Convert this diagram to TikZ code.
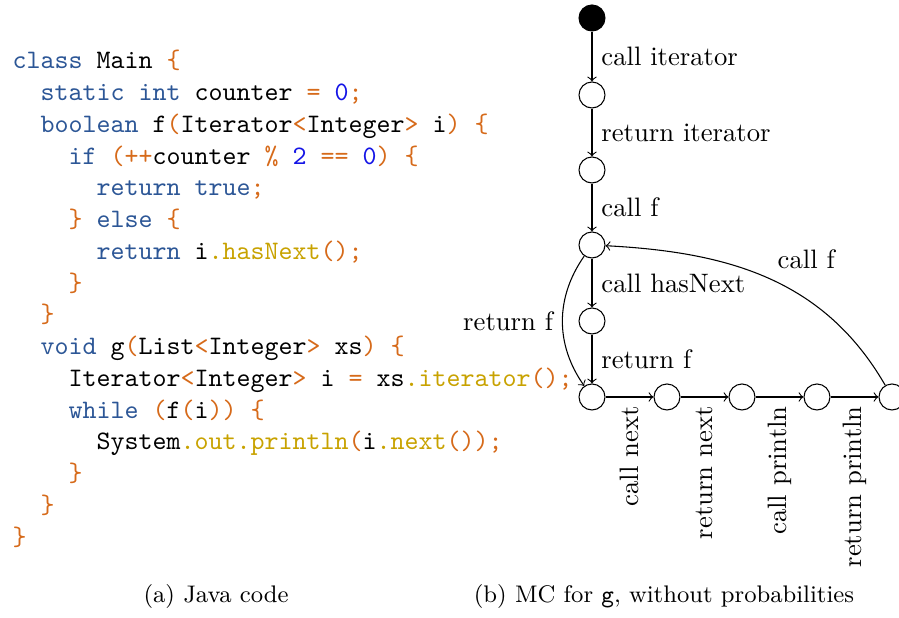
\documentclass[tikz,border=0pt]{standalone}
\usetikzlibrary{arrows}
\definecolor{kwblue}{RGB}{44,86,150}
\definecolor{oporange}{RGB}{214,106,26}
\definecolor{mtgold}{RGB}{200,162,0}
\definecolor{numblue}{RGB}{20,20,230}
\newcommand\jkw[1]{\textcolor{kwblue}{#1}}
\newcommand\jop[1]{\textcolor{oporange}{#1}}
\newcommand\jmt[1]{\textcolor{mtgold}{#1}}
\newcommand\jnum[1]{\textcolor{numblue}{#1}}
\begin{document}
\begin{tikzpicture}[x=0.375pt,y=-0.375pt,
  codeline/.style={anchor=base west,inner sep=0pt,font=\ttfamily\fontsize{10}{12}\selectfont},
  state/.style={circle,draw,minimum size=9.75pt,inner sep=0pt},
  startstate/.style={state,fill=black},
  trans/.style={->},
  lbl/.style={font=\fontsize{10}{12}\selectfont},
  captext/.style={anchor=base,font=\fontsize{9}{11}\selectfont}]
\useasboundingbox (0,0) rectangle (899,618);
% code
\node[codeline] (c1) at (12,69) {\jkw{class} Main \jop{\{}};
\node[codeline] (c2) at (40,100.75) {\jkw{static int} counter \jop{=} \jnum{0}\jop{;}};
\node[codeline] (c3) at (40,132.5) {\jkw{boolean} f\jop{(}Iterator\jop{<}Integer\jop{>} i\jop{)} \jop{\{}};
\node[codeline] (c4) at (68,164.25) {\jkw{if} \jop{(++}counter \jop{\%} \jnum{2} \jop{==} \jnum{0}\jop{)} \jop{\{}};
\node[codeline] (c5) at (96,196) {\jkw{return true}\jop{;}};
\node[codeline] (c6) at (68,227.75) {\jop{\}} \jkw{else} \jop{\{}};
\node[codeline] (c7) at (96,259.5) {\jkw{return} i\jmt{.hasNext}\jop{();}};
\node[codeline] (c8) at (68,291.25) {\jop{\}}};
\node[codeline] (c9) at (40,323) {\jop{\}}};
\node[codeline] (c10) at (40,354.75) {\jkw{void} g\jop{(}List\jop{<}Integer\jop{>} xs\jop{)} \jop{\{}};
\node[codeline] (c11) at (68,386.5) {Iterator\jop{<}Integer\jop{>} i \jop{=} xs\jmt{.iterator}\jop{();}};
\node[codeline] (c12) at (68,418.25) {\jkw{while} \jop{(}f\jop{(}i\jop{))} \jop{\{}};
\node[codeline] (c13) at (96,450) {System\jmt{.out.println}\jop{(}i\jmt{.next}\jop{());}};
\node[codeline] (c14) at (68,481.75) {\jop{\}}};
\node[codeline] (c15) at (40,513.5) {\jop{\}}};
\node[codeline] (c16) at (12,545.25) {\jop{\}}};
% graph
\node[startstate] (s0) at (592,18) {};
\node[state] (s1) at (592,95) {};
\node[state] (s2) at (592,170) {};
\node[state] (s3) at (592,245) {};
\node[state] (s4) at (592,321) {};
\node[state] (s5) at (592,397) {};
\node[state] (s6) at (667,397) {};
\node[state] (s7) at (742,397) {};
\node[state] (s8) at (817,397) {};
\node[state] (s9) at (892,397) {};
\draw[trans] (s0) -- node[lbl,midway,anchor=west] {call iterator} (s1);
\draw[trans] (s1) -- node[lbl,midway,anchor=west] {return iterator} (s2);
\draw[trans] (s2) -- node[lbl,midway,anchor=west] {call f} (s3);
\draw[trans] (s3) -- node[lbl,midway,anchor=west] {call hasNext} (s4);
\draw[trans] (s4) -- node[lbl,midway,anchor=west] {return f} (s5);
\draw[trans] (s3) to[bend right=35] node[lbl,midway,anchor=east] {return f} (s5);
\draw[trans] (s5) -- node[lbl,midway,rotate=90,anchor=east] {call next} (s6);
\draw[trans] (s6) -- node[lbl,midway,rotate=90,anchor=east] {return next} (s7);
\draw[trans] (s7) -- node[lbl,midway,rotate=90,anchor=east] {call println} (s8);
\draw[trans] (s8) -- node[lbl,midway,rotate=90,anchor=east] {return println} (s9);
\draw[trans] (s9) to[out=120,in=-3] node[lbl,pos=0.5,anchor=south west] {call f} (s3);
% captions
\node[captext] (capa) at (216,603) {(a) Java code};
\node[captext] (capb) at (664,603) {(b) MC for \texttt{g}, without probabilities};
\end{tikzpicture}
\end{document}
